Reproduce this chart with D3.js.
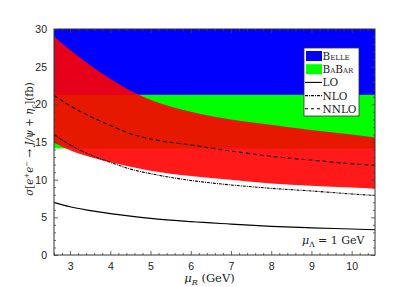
<!DOCTYPE html>
<html lang="en">
<head>
<meta charset="UTF-8">
<title>e+e- -> J/psi + eta_c</title>
<style>
  body { margin: 0; background: #fff; }
  .tick text { font-family: "Liberation Sans", Arial, sans-serif; font-size: 10.5px; fill: #222; }
  .serif { font-family: "DejaVu Serif", "Liberation Serif", serif; }
</style>
</head>
<body>
<script src="https://d3js.org/d3.v7.min.js"></script>
<div id="chart"></div>
<script>
// renormalization scale mu_R (GeV)
var muR   = [2.6, 3, 3.5, 4, 4.5, 5, 6, 7, 8, 9, 10, 10.58];
// cross sections (fb)
var LO    = [7.0, 6.4, 5.9, 5.5, 5.15, 4.85, 4.42, 4.1, 3.8, 3.6, 3.45, 3.35];
var NLO   = [16.0, 14.6, 13.3, 12.3, 11.4, 10.8, 9.9, 9.3, 8.85, 8.5, 8.1, 7.9];
var NNLO  = [21.2, 19.8, 18.4, 17.2, 16.1, 15.4, 14.6, 13.8, 13.1, 12.6, 12.1, 11.9];
// NNLO uncertainty band
var bandLo = [14.9, 13.9, 13.0, 12.3, 11.7, 11.2, 10.5, 10.0, 9.5, 9.2, 8.95, 8.8];
var bandHi = [29.0, 27.2, 25.2, 23.4, 21.8, 20.6, 19.0, 18.0, 17.3, 16.6, 16.0, 15.6];
// experiments
var belle = [21.25, 30];
var babar = [14.15, 21.25];

var xTicks = [3, 4, 5, 6, 7, 8, 9, 10];
var yTicks = [0, 5, 10, 15, 20, 25, 30];

var margin = { top: 29, right: 40, bottom: 32, left: 54 },
    width = 415 - margin.left - margin.right,
    height = 287 - margin.top - margin.bottom;

var svg = d3.select("#chart")
    .append("svg")
    .attr("width", 415)
    .attr("height", 287)
    .append("g")
    .attr("transform", "translate(" + margin.left + "," + margin.top + ")");

var x = d3.scaleLinear().domain([2.6, 10.58]).range([0, width]);
var y = d3.scaleLinear().domain([0, 30]).range([height, 0]);

svg.append("clipPath").attr("id", "clip")
    .append("rect").attr("width", width).attr("height", height);

var plot = svg.append("g").attr("clip-path", "url(#clip)");

// experimental bands
plot.append("rect")
    .attr("x", 0).attr("width", width)
    .attr("y", y(belle[1])).attr("height", y(belle[0]) - y(belle[1]))
    .style("fill", "#0000ff");
plot.append("rect")
    .attr("x", 0).attr("width", width)
    .attr("y", y(babar[1])).attr("height", y(babar[0]) - y(babar[1]))
    .style("fill", "#00ff00");

// NNLO band
var band = d3.area()
    .x(function(d, i) { return x(muR[i]); })
    .y0(function(d, i) { return y(bandLo[i]); })
    .y1(function(d, i) { return y(bandHi[i]); })
    .curve(d3.curveMonotoneX);
plot.append("path")
    .datum(muR)
    .attr("d", band)
    .style("fill", "#ff0000")
    .style("fill-opacity", 0.9);

var line = function(vals) {
    return d3.line()
        .x(function(d, i) { return x(muR[i]); })
        .y(function(d, i) { return y(vals[i]); })
        .curve(d3.curveMonotoneX)(muR);
};

plot.append("path").attr("d", line(LO))
    .style("fill", "none").style("stroke", "#000").style("stroke-width", 1.2);
plot.append("path").attr("d", line(NLO))
    .style("fill", "none").style("stroke", "#000").style("stroke-width", 1.1)
    .style("stroke-dasharray", "3,1,1,1");
plot.append("path").attr("d", line(NNLO))
    .style("fill", "none").style("stroke", "#000").style("stroke-width", 1.1)
    .style("stroke-dasharray", "4,3");

// minor ticks
var xMinor = d3.range(2.6, 10.59, 0.2).filter(function(v) {
    return Math.abs(v - Math.round(v)) > 0.01;
});
var yMinor = d3.range(1, 30, 1).filter(function(v) { return v % 5 !== 0; });

function styleAxis(g) {
    g.select(".domain").remove();
    g.selectAll(".tick line").style("stroke", "#444").style("stroke-width", 0.8);
}

svg.append("g").attr("transform", "translate(0," + height + ")")
    .call(d3.axisBottom(x).tickValues(xTicks).tickFormat(d3.format("d")).tickSize(-4).tickPadding(8))
    .call(styleAxis);
svg.append("g").attr("transform", "translate(0," + height + ")")
    .call(d3.axisBottom(x).tickValues(xMinor).tickFormat("").tickSize(-2))
    .call(styleAxis);
svg.append("g")
    .call(d3.axisTop(x).tickValues(xTicks).tickFormat("").tickSize(-4))
    .call(styleAxis);
svg.append("g")
    .call(d3.axisTop(x).tickValues(xMinor).tickFormat("").tickSize(-2))
    .call(styleAxis);

svg.append("g")
    .call(d3.axisLeft(y).tickValues(yTicks).tickSize(-4).tickPadding(7))
    .call(styleAxis);
svg.append("g")
    .call(d3.axisLeft(y).tickValues(yMinor).tickFormat("").tickSize(-2))
    .call(styleAxis);
svg.append("g").attr("transform", "translate(" + width + ",0)")
    .call(d3.axisRight(y).tickValues(yTicks).tickFormat("").tickSize(-4))
    .call(styleAxis);
svg.append("g").attr("transform", "translate(" + width + ",0)")
    .call(d3.axisRight(y).tickValues(yMinor).tickFormat("").tickSize(-2))
    .call(styleAxis);

// frame
svg.append("rect")
    .attr("width", width).attr("height", height)
    .style("fill", "none").style("stroke", "#333").style("stroke-width", 1);

// axis titles
var xl = svg.append("text").attr("class", "serif")
    .attr("x", width / 2 - 5).attr("y", height + 27)
    .attr("text-anchor", "middle")
    .style("font-size", "11.5px").style("fill", "#222");
xl.append("tspan").style("font-style", "italic").text("μ");
xl.append("tspan").attr("dy", 2.5).style("font-size", "8px").style("font-style", "italic").text("R");
xl.append("tspan").attr("dy", -2.5).text(" (GeV)");

var yl = svg.append("text").attr("class", "serif")
    .attr("transform", "translate(-21," + (height / 2 - 3) + ") rotate(-90)")
    .attr("text-anchor", "middle")
    .style("font-size", "10.3px").style("fill", "#222");
yl.append("tspan").style("font-style", "italic").text("σ");
yl.append("tspan").text("[");
yl.append("tspan").style("font-style", "italic").text("e");
yl.append("tspan").attr("dy", -4).style("font-size", "7px").text("+");
yl.append("tspan").attr("dy", 4).style("font-style", "italic").text("e");
yl.append("tspan").attr("dy", -4).style("font-size", "7px").text("−");
yl.append("tspan").attr("dy", 4).text(" → ");
yl.append("tspan").style("font-style", "italic").text("J/ψ");
yl.append("tspan").text(" + ");
yl.append("tspan").style("font-style", "italic").text("η");
yl.append("tspan").attr("dy", 2.5).style("font-size", "7px").style("font-style", "italic").text("c");
yl.append("tspan").attr("dy", -2.5).text("](fb)");

// annotation
var ann = svg.append("text").attr("class", "serif")
    .attr("x", 248).attr("y", 215)
    .style("font-size", "11px").style("fill", "#222");
ann.append("tspan").style("font-style", "italic").text("μ");
ann.append("tspan").attr("dy", 2.5).style("font-size", "7.5px").text("Λ");
ann.append("tspan").attr("dy", -2.5).text(" = 1 GeV");

// legend
var legend = [
    { label: "Belle", type: "rect", color: "#0000ff" },
    { label: "BaBar", type: "rect", color: "#00ff00" },
    { label: "LO", type: "line", dash: null },
    { label: "NLO", type: "line", dash: "3,1,1,1" },
    { label: "NNLO", type: "line", dash: "3,3" }
];
var lg = svg.append("g").attr("transform", "translate(250,19)");
lg.append("rect")
    .attr("width", 55).attr("height", 68)
    .style("fill", "#fff").style("stroke", "#333").style("stroke-width", 0.8);
var row = lg.selectAll(".row").data(legend).enter().append("g")
    .attr("transform", function(d, i) { return "translate(0," + (8 + i * 13.2) + ")"; });
row.filter(function(d) { return d.type === "rect"; })
    .append("rect")
    .attr("x", 2).attr("y", -5).attr("width", 16).attr("height", 10)
    .style("fill", function(d) { return d.color; });
row.filter(function(d) { return d.type === "line"; })
    .append("line")
    .attr("x1", 1).attr("x2", 18).attr("y1", 0).attr("y2", 0)
    .style("stroke", "#000").style("stroke-width", 1.1)
    .style("stroke-dasharray", function(d) { return d.dash; });
row.append("text").attr("class", "serif")
    .attr("x", 18.5).attr("y", 4)
    .style("font-size", "10.5px")
    .style("font-variant", function(d) { return d.type === "rect" ? "small-caps" : "normal"; })
    .style("fill", "#222")
    .text(function(d) { return d.label; });
</script>
</body>
</html>
